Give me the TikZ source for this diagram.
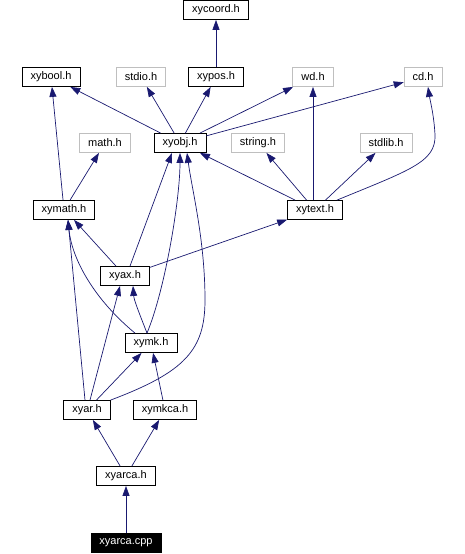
\documentclass[tikz,border=0pt]{standalone}
\usepackage{fontspec}
\setmainfont{Liberation Sans}
\usetikzlibrary{arrows.meta}
\definecolor{edgeblue}{HTML}{191970}
\definecolor{boxgray}{HTML}{BFBFBF}

\begin{document}
\begin{tikzpicture}[x=1pt,y=-1pt,
	file/.style={draw,line width=0.8pt,inner xsep=8.5pt,inner ysep=0pt,minimum height=19pt,font=\fontsize{11}{13}\selectfont},
	sysfile/.style={file,draw=boxgray},
	dep/.style={edgeblue,line width=0.7pt,-{Triangle[length=10pt,width=7pt]}}]
\useasboundingbox (0,0) rectangle (465,554);

% headers
\node[file] (xycoord) at (216,10) {xycoord.h};
\node[file] (xybool) at (51,77) {xybool.h};
\node[sysfile] (stdio) at (141,77) {stdio.h};
\node[file] (xypos) at (216,77) {xypos.h};
\node[sysfile] (wd) at (313,77) {wd.h};
\node[sysfile] (cd) at (423,77) {cd.h};
\node[sysfile] (math) at (105,143) {math.h};
\node[file] (xyobj) at (180,143) {xyobj.h};
\node[sysfile] (string) at (258,143) {string.h};
\node[sysfile] (stdlib) at (386,143) {stdlib.h};
\node[file] (xymath) at (64,210) {xymath.h};
\node[file] (xytext) at (315,210) {xytext.h};
\node[file] (xyax) at (125,276) {xyax.h};
\node[file] (xymk) at (151,343) {xymk.h};
\node[file] (xyar) at (87,410) {xyar.h};
\node[file] (xymkca) at (165,410) {xymkca.h};
\node[file] (xyarca) at (126,476) {xyarca.h};
\node[file,fill=black,text=white] (cpp) at (126,543) {xyarca.cpp};

% includes
\draw[dep] (xypos) -- (xycoord);
\draw[dep] (xyobj) -- (xybool);
\draw[dep] (xyobj) -- (stdio);
\draw[dep] (xyobj) -- (xypos);
\draw[dep] (xyobj) -- (wd);
\draw[dep] (xyobj) -- (cd);
\draw[dep] (xymath) -- (xybool);
\draw[dep] (xymath) -- (math);
\draw[dep] (xytext) -- (xyobj);
\draw[dep] (xytext) -- (string);
\draw[dep] ([xshift=-2pt]xytext.north) -- ([xshift=0pt]wd.south);
\draw[dep] (xytext) -- (stdlib);
\draw[dep] ([xshift=22pt]xytext.north) .. controls (410,170) and (436,162) .. (435,135)
	.. controls (434,115) and (430,100) .. ([xshift=5pt]cd.south);
\draw[dep] ([xshift=5pt]xyax.north) -- ([xshift=-8pt]xyobj.south);
\draw[dep] (xyax) -- ([xshift=10pt]xymath.south);
\draw[dep] (xyax) -- (xytext);
\draw[dep] ([xshift=-16pt]xymk.north) .. controls (95,300) and (72,260) .. ([xshift=4pt]xymath.south);
\draw[dep] ([xshift=-4pt]xymk.north) .. controls (138,310) and (134,300) .. ([xshift=8pt]xyax.south);
\draw[dep] ([xshift=-4pt]xymk.north) .. controls (165,290) and (180,200) .. (xyobj.south);
\draw[dep] ([xshift=-2pt]xyar.north) -- ([xshift=4pt]xymath.south);
\draw[dep] ([xshift=3pt]xyar.north) -- ([xshift=-5pt]xyax.south);
\draw[dep] (xyar) -- (xymk);
\draw[dep] (xyar.north east) .. controls (185,372) and (205,350) .. (205,300)
	.. controls (205,240) and (192,190) .. ([xshift=7pt]xyobj.south);
\draw[dep] (xymkca) -- (xymk);
\draw[dep] (xyarca) -- (xyar);
\draw[dep] (xyarca) -- (xymkca);
\draw[dep] (cpp) -- (xyarca);
\end{tikzpicture}
\end{document}
